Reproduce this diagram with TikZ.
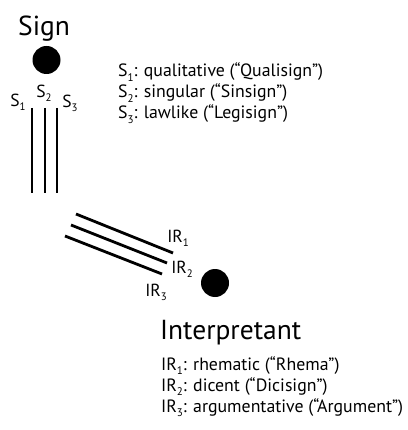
\documentclass[tikz,border=0pt]{standalone}
\usepackage{fontspec}
\setmainfont{PT Sans}
\newcommand\mysub[1]{\raisebox{-0.45ex}{\scalebox{0.62}{#1}}}
\begin{document}
\begin{tikzpicture}[x=1pt,y=-1pt,
  bigtxt/.style={font=\fontsize{27.5}{32}\selectfont, inner sep=0pt, anchor=base west},
  legtxt/.style={font=\fontsize{17.8}{21}\selectfont, inner sep=0pt, anchor=base west},
  lbl/.style={font=\fontsize{17.5}{21}\selectfont, inner sep=0pt},
  dot/.style={circle, fill=black, minimum size=28pt, inner sep=0pt},
  strand/.style={line width=2.8pt}]
\useasboundingbox (0,0) rectangle (407,430);
% Sign
\node[bigtxt] (signtitle) at (18,36) {Sign};
\node[dot] (signdot) at (46.5,60) {};
\coordinate (s1a) at (32,108); \coordinate (s1b) at (32,193);
\coordinate (s2a) at (45,108); \coordinate (s2b) at (45,193);
\coordinate (s3a) at (57,108); \coordinate (s3b) at (57,193);
\draw[strand] (s1a) -- (s1b);
\draw[strand] (s2a) -- (s2b);
\draw[strand] (s3a) -- (s3b);
\node[lbl] (ls1) at (18,102) {S\mysub{1}};
\node[lbl] (ls2) at (44,93) {S\mysub{2}};
\node[lbl] (ls3) at (70,103) {S\mysub{3}};
\node[legtxt] (leg1) at (118,77) {S\mysub{1}: qualitative (“Qualisign”)};
\node[legtxt] (leg2) at (118,98) {S\mysub{2}: singular (“Sinsign”)};
\node[legtxt] (leg3) at (118,119) {S\mysub{3}: lawlike (“Legisign”)};
% Interpretant
\coordinate (r1a) at (76,214); \coordinate (r1b) at (173,253);
\coordinate (r2a) at (71,225); \coordinate (r2b) at (167,263);
\coordinate (r3a) at (65,236); \coordinate (r3b) at (162,274);
\draw[strand] (r1a) -- (r1b);
\draw[strand] (r2a) -- (r2b);
\draw[strand] (r3a) -- (r3b);
\node[lbl] (lr1) at (178,238) {IR\mysub{1}};
\node[lbl] (lr2) at (182,269) {IR\mysub{2}};
\node[lbl] (lr3) at (156,292) {IR\mysub{3}};
\node[dot] (intdot) at (215,283) {};
\node[bigtxt] (inttitle) at (160,339) {Interpretant};
\node[legtxt] (ileg1) at (161,370) {IR\mysub{1}: rhematic (“Rhema”)};
\node[legtxt] (ileg2) at (161,391) {IR\mysub{2}: dicent (“Dicisign”)};
\node[legtxt] (ileg3) at (161,412) {IR\mysub{3}: argumentative (“Argument”)};
\end{tikzpicture}
\end{document}
